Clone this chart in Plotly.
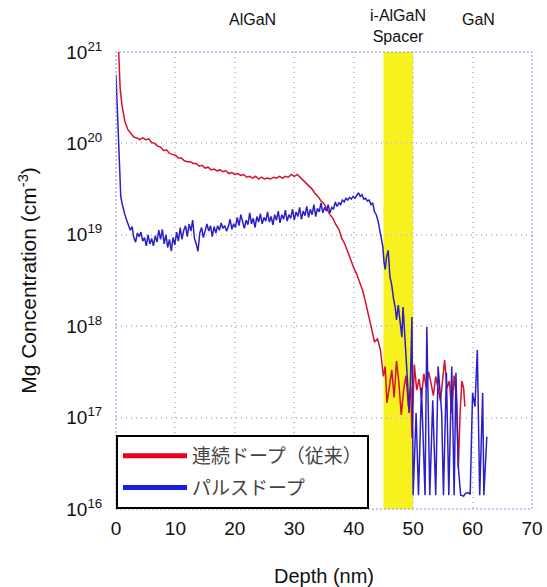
import plotly.graph_objects as go

# ---------------- data (log10 of Mg concentration, cm^-3) ----------------
red_depth = [0.3, 0.5, 0.7, 1.0, 1.5, 2.0, 2.5, 3.0, 3.5, 4.0, 4.5, 5.0, 5.5, 6.0, 6.5,
             7.0, 7.5, 8.0, 8.5, 9.0, 9.5, 10.0, 10.5, 11.0, 11.5, 12.0, 12.5, 13.0, 13.5,
             14.0, 14.5, 15.0, 15.5, 16.0, 16.5, 17.0, 17.5, 18.0, 18.5, 19.0, 19.5, 20.0,
             20.5, 21.0, 21.5, 22.0, 22.5, 23.0, 23.5, 24.0, 24.5, 25.0, 25.5, 26.0, 26.5,
             27.0, 27.5, 28.0, 28.5, 29.0, 29.5, 30.0, 30.5, 31.0, 31.5, 32.0, 32.5, 33.0,
             33.5, 34.0, 34.5, 35.0, 35.5, 36.0, 36.5, 37.0, 37.5, 38.0, 38.5, 39.0, 39.5,
             40.0, 40.5, 41.0, 41.5, 42.0, 42.5, 43.0, 43.5, 44.0, 44.5, 45.0, 45.3, 45.6,
             46.0, 46.4, 46.8, 47.2, 47.6, 48.0, 48.4, 48.8, 49.2, 49.6, 49.8, 50.2, 50.6,
             51.0, 51.4, 51.8, 52.2, 52.6, 53.0, 53.4, 53.8, 54.2, 54.6, 55.0, 55.3, 55.7,
             56.1, 56.5, 56.9, 57.3, 57.6, 57.9, 58.2, 58.5, 58.7]
red_log = [21.25, 20.85, 20.60, 20.42, 20.24, 20.15, 20.11, 20.07, 20.06, 20.04, 20.06, 20.04,
           20.05, 20.01, 20.00, 19.97, 19.96, 19.92, 19.93, 19.89, 19.88, 19.87, 19.84, 19.84,
           19.81, 19.80, 19.80, 19.78, 19.78, 19.75, 19.76, 19.73, 19.74, 19.71, 19.72, 19.70,
           19.71, 19.69, 19.70, 19.67, 19.68, 19.66, 19.67, 19.65, 19.66, 19.63, 19.64, 19.62,
           19.64, 19.61, 19.63, 19.61, 19.62, 19.61, 19.63, 19.62, 19.64, 19.62, 19.64, 19.63,
           19.66, 19.64, 19.66, 19.63, 19.60, 19.57, 19.53, 19.50, 19.45, 19.42, 19.37, 19.34,
           19.28, 19.22, 19.18, 19.11, 19.06, 18.96, 18.90, 18.81, 18.73, 18.64, 18.57, 18.48,
           18.39, 18.26, 18.12, 17.97, 17.83, 17.86, 17.74, 17.45, 17.56, 17.16, 17.36, 17.52,
           17.22, 17.62, 17.38, 17.03, 17.30, 17.46, 17.12, 17.34, 16.78, 17.58, 17.30, 17.42,
           17.22, 17.48, 17.33, 17.50, 17.38, 17.24, 17.45, 17.30, 17.18, 17.44, 17.63, 17.32,
           17.40, 17.05, 17.46, 17.20, 16.45, 17.05, 17.40, 17.32, 17.12]

blue_depth = [0.0, 0.2, 0.4, 0.6, 0.8, 1.0, 1.2, 1.5, 1.8, 2.1, 2.4, 2.7, 3.0, 3.3, 3.6, 3.9,
              4.2, 4.5, 4.8, 5.1, 5.4, 5.7, 6.0, 6.3, 6.6, 6.9, 7.2, 7.5, 7.8, 8.1, 8.4, 8.7,
              9.0, 9.3, 9.6, 9.9, 10.2, 10.5, 10.8, 11.1, 11.4, 11.7, 12.0, 12.3, 12.6, 12.9,
              13.2, 13.5, 13.8, 14.1, 14.4, 14.7, 15.0, 15.3, 15.6, 15.9, 16.2, 16.5, 16.8,
              17.1, 17.4, 17.7, 18.0, 18.3, 18.6, 18.9, 19.2, 19.5, 19.8, 20.1, 20.4, 20.7,
              21.0, 21.3, 21.6, 21.9, 22.2, 22.5, 22.8, 23.1, 23.4, 23.7, 24.0, 24.3, 24.6,
              24.9, 25.2, 25.5, 25.8, 26.1, 26.4, 26.7, 27.0, 27.3, 27.6, 27.9, 28.2, 28.5,
              28.8, 29.1, 29.4, 29.7, 30.0, 30.3, 30.6, 30.9, 31.2, 31.5, 31.8, 32.1, 32.4,
              32.7, 33.0, 33.3, 33.6, 33.9, 34.2, 34.5, 34.8, 35.1, 35.4, 35.7, 36.0, 36.3,
              36.6, 36.9, 37.2, 37.5, 37.8, 38.1, 38.4, 38.7, 39.0, 39.3, 39.6, 39.9, 40.2,
              40.5, 40.8, 41.1, 41.4, 41.7, 42.0, 42.3, 42.6, 42.9, 43.2, 43.5, 43.8, 44.1,
              44.4, 44.7, 44.9, 45.1, 45.3, 45.5, 45.8, 46.1, 46.4, 46.7, 47.0, 47.2, 47.5,
              47.8, 48.1, 48.3, 48.6, 48.9, 49.1, 49.3, 49.5, 49.8, 50.0, 50.5, 50.9, 51.4,
              52.0, 52.3, 52.8, 53.3, 53.8, 54.2, 54.8, 55.1, 55.6, 56.0, 56.5, 56.9, 57.2,
              57.6, 58.0, 58.5, 58.8, 59.3, 59.6, 60.0, 60.4, 60.8, 61.2, 61.7, 61.9, 62.4]
blue_log = [20.75, 20.40, 20.00, 19.60, 19.42, 19.35, 19.28, 19.22, 19.16, 19.10, 19.05, 19.09,
            18.97, 18.92, 19.02, 18.98, 19.03, 18.93, 18.97, 18.88, 19.00, 18.90, 18.96, 18.88,
            18.99, 18.92, 19.05, 18.95, 19.06, 18.90, 19.00, 18.86, 18.95, 18.82, 18.97, 18.89,
            19.03, 18.93, 19.08, 18.95, 19.05, 19.10, 18.98, 19.12, 19.04, 19.16, 18.96, 18.90,
            18.82, 19.02, 19.08, 18.97, 19.06, 19.12, 19.04, 19.10, 18.98, 19.09, 19.02, 19.10,
            19.05, 19.13, 19.07, 19.10, 19.04, 19.09, 19.17, 19.06, 19.12, 19.08, 19.19, 19.10,
            19.22, 19.13, 19.07, 19.16, 19.11, 19.24, 19.12, 19.18, 19.08, 19.20, 19.14, 19.23,
            19.12, 19.19, 19.15, 19.25, 19.14, 19.20, 19.11, 19.22, 19.16, 19.26, 19.13, 19.22,
            19.17, 19.27, 19.15, 19.22, 19.18, 19.28, 19.16, 19.25, 19.20, 19.30, 19.17, 19.26,
            19.21, 19.31, 19.19, 19.28, 19.22, 19.33, 19.20, 19.29, 19.25, 19.35, 19.24, 19.30,
            19.26, 19.33, 19.24, 19.30, 19.28, 19.36, 19.31, 19.35, 19.33, 19.38, 19.36, 19.40,
            19.38, 19.41, 19.39, 19.42, 19.40, 19.43, 19.46, 19.42, 19.44, 19.39, 19.40, 19.37,
            19.38, 19.33, 19.35, 19.25, 19.22, 19.15, 19.03, 18.95, 18.87, 18.70, 18.62, 18.75,
            18.83, 18.54, 18.45, 18.30, 18.20, 18.07, 18.23, 18.05, 17.88, 18.21, 17.90, 17.60,
            17.35, 17.05, 17.30, 18.10, 16.15, 17.05, 16.15, 17.33, 16.15, 17.99, 16.15, 17.19,
            16.15, 17.56, 17.05, 16.15, 17.49, 16.15, 17.56, 16.15, 17.49, 16.46, 16.15, 16.14,
            16.17, 16.18, 16.16, 17.27, 17.12, 17.74, 16.15, 17.27, 16.15, 16.79]

series_names = ["連続ドープ（従来）", "パルスドープ"]
series_colors = ["#d3122c", "#2c1fc4"]
legend_colors = ["#e8001c", "#1c1ce0"]

x_ticks = [0, 10, 20, 30, 40, 50, 60, 70]
y_exponents = [16, 17, 18, 19, 20, 21]
spacer_range = [45, 50]
region_labels = ["AlGaN", "i-AlGaN<br>Spacer", "GaN"]
region_centers = [22.9, 47.5, 61.0]

assert len(red_depth) == len(red_log)
assert len(blue_depth) == len(blue_log)

red_conc = [10.0 ** v for v in red_log]
blue_conc = [10.0 ** v for v in blue_log]

LAT = "Liberation Sans, Arial, sans-serif"
CJK = "Noto Sans CJK JP, sans-serif"
GRID = "#c2c2e2"

fig = go.Figure()
fig.add_trace(go.Scatter(x=red_depth, y=red_conc, mode="lines",
                         line=dict(color=series_colors[0], width=1.5),
                         showlegend=False, hoverinfo="skip"))
fig.add_trace(go.Scatter(x=blue_depth, y=blue_conc, mode="lines",
                         line=dict(color=series_colors[1], width=1.5),
                         showlegend=False, hoverinfo="skip"))
# legend entries (thicker swatches)
for i, name in enumerate(series_names):
    fig.add_trace(go.Scatter(x=[None], y=[None], mode="lines", name=name,
                             legendgroup=f"g{i}",
                             line=dict(color=legend_colors[i], width=5)))

# spacer band
fig.add_shape(type="rect", xref="x", yref="paper", x0=spacer_range[0], x1=spacer_range[1],
              y0=0, y1=1, fillcolor="#f7f21e", line=dict(width=0), layer="between")
# dotted plot frame
fig.add_shape(type="rect", xref="paper", yref="paper", x0=0, x1=1, y0=0, y1=1,
              line=dict(color="#8c8cdc", width=1, dash="2px,2px"), layer="above")

for lab, xc in zip(region_labels, region_centers):
    fig.add_annotation(x=xc, xref="x", y=1.056 if "Spacer" in lab else 1.072, yref="paper",
                       text=lab, showarrow=False, font=dict(family=LAT, size=16, color="#111"),
                       xanchor="center", yanchor="middle")

fig.update_layout(
    width=547, height=587,
    margin=dict(l=116, r=15, t=52, b=78, autoexpand=False),
    paper_bgcolor="white", plot_bgcolor="white",
    font=dict(family=LAT, color="#111"),
    xaxis=dict(range=[0, 70], tickvals=x_ticks, ticktext=[str(v) for v in x_ticks],
               showgrid=True, gridcolor=GRID, griddash="1px,4px", gridwidth=1.5,
               zeroline=False, showline=False, ticks="outside", ticklen=2,
               tickcolor="rgba(0,0,0,0)", tickfont=dict(size=19, family=LAT),
               automargin=False,
               title=dict(text="Depth (nm)", font=dict(size=20, family=LAT), standoff=32)),
    yaxis=dict(type="log", range=[16, 21], tickvals=[10.0 ** e for e in y_exponents],
               ticktext=[f"10<sup>{e}</sup>" for e in y_exponents],
               showgrid=True, gridcolor=GRID, griddash="1px,4px", gridwidth=1.5,
               zeroline=False, showline=False, ticks="outside", ticklen=9,
               tickcolor="rgba(0,0,0,0)", tickfont=dict(size=19, family=LAT),
               automargin=False,
               title=dict(text="Mg Concentration (cm<sup>-3</sup>)",
                          font=dict(size=21, family=LAT), standoff=23)),
    legend=dict(x=0, y=0, xanchor="left", yanchor="bottom", bgcolor="white",
                bordercolor="black", borderwidth=2, tracegroupgap=4,
                font=dict(family=CJK, size=19, color="#444"), itemwidth=64),
)

fig.write_html("out.html")
